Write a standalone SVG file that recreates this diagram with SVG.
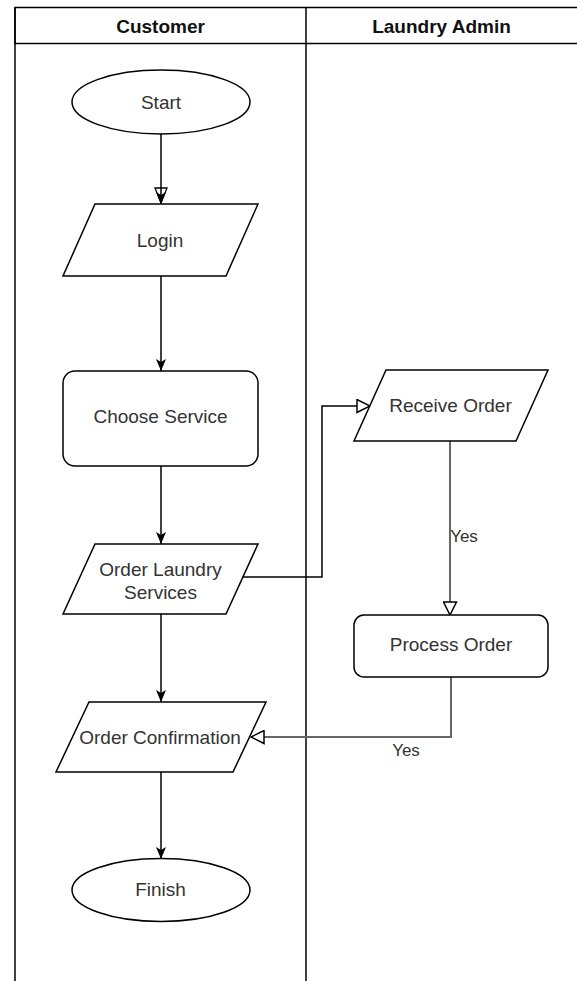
<svg xmlns="http://www.w3.org/2000/svg" width="577" height="981" viewBox="0 0 577 981">
<style>
.shape{fill:#fff;stroke:#000;stroke-width:1.5}
.lane{fill:none;stroke:#000;stroke-width:1.5}
.hdr{font-family:"Liberation Sans",Arial,sans-serif;font-size:19px;font-weight:bold;fill:#111;text-anchor:middle}
.txt{font-family:"Liberation Sans",Arial,sans-serif;font-size:19px;fill:#333;text-anchor:middle}
.lbl{font-family:"Liberation Sans",Arial,sans-serif;font-size:17px;fill:#333;text-anchor:middle}
.edge{fill:none;stroke:#000;stroke-width:1.5}
.edge2{fill:none;stroke:#666;stroke-width:2}
</style>
<defs>
<marker id="classic" viewBox="0 0 12 10" refX="12" refY="5" markerWidth="12" markerHeight="10" markerUnits="userSpaceOnUse" orient="auto">
<path d="M0,0 L12,5 L0,10 L3,5 Z" fill="#000"/>
</marker>
<marker id="hollow" viewBox="-1 -1 15 15" refX="13" refY="6.5" markerWidth="15" markerHeight="15" markerUnits="userSpaceOnUse" orient="auto">
<path d="M0,0 L13,6.5 L0,13 Z" fill="#fff" stroke="#000" stroke-width="1.5"/>
</marker>
</defs>
<rect width="577" height="981" fill="#fff"/>
<g id="pool">
<rect class="lane" x="15" y="7.5" width="563" height="36"/>
<line class="lane" x1="15" y1="7.5" x2="15" y2="981"/>
<line class="lane" x1="306" y1="7.5" x2="306" y2="981"/>
<text class="hdr" x="160.5" y="33">Customer</text>
<text class="hdr" x="441.5" y="33">Laundry Admin</text>
</g>
<g id="connectors">
<path class="edge" d="M161,134 V204" marker-end="url(#classic)"/>
<path d="M155,188 L167,188 L161,203 Z" fill="none" stroke="#000" stroke-width="1.3"/>
<path class="edge" d="M161,276 V371" marker-end="url(#classic)"/>
<path class="edge" d="M161,466 V544" marker-end="url(#classic)"/>
<path class="edge" d="M161,614 V702" marker-end="url(#classic)"/>
<path class="edge" d="M161,772 V859" marker-end="url(#classic)"/>
<path class="edge" d="M243,577 H322 V406 H370" marker-end="url(#hollow)"/>
<path class="edge2" d="M450,441 V615" marker-end="url(#hollow)"/>
<path class="edge2" d="M451,677 V737 H251" marker-end="url(#hollow)"/>
<text class="lbl" x="464" y="542">Yes</text>
<text class="lbl" x="406" y="756">Yes</text>
</g>
<g id="start">
<ellipse class="shape" cx="161" cy="102" rx="89" ry="32"/>
<text class="txt" x="161" y="109">Start</text>
</g>
<g id="login">
<polygon class="shape" points="95,204 258,204 226,276 63,276"/>
<text class="txt" x="160" y="247">Login</text>
</g>
<g id="choose-service">
<rect class="shape" x="63" y="371" width="195" height="95" rx="12"/>
<text class="txt" x="160.5" y="423">Choose Service</text>
</g>
<g id="order-laundry">
<polygon class="shape" points="95,544 258,544 226,614 63,614"/>
<text class="txt" x="160.5" y="576">Order Laundry</text>
<text class="txt" x="160.5" y="599">Services</text>
</g>
<g id="order-confirmation">
<polygon class="shape" points="89,702 266,702 233,772 56,772"/>
<text class="txt" x="160" y="744">Order Confirmation</text>
</g>
<g id="finish">
<ellipse class="shape" cx="161" cy="890" rx="89" ry="31.5"/>
<text class="txt" x="160.5" y="896">Finish</text>
</g>
<g id="receive-order">
<polygon class="shape" points="386,370 548,370 516,441 354,441"/>
<text class="txt" x="450.5" y="412">Receive Order</text>
</g>
<g id="process-order">
<rect class="shape" x="354" y="615" width="194" height="62" rx="10"/>
<text class="txt" x="451" y="651">Process Order</text>
</g>
</svg>
